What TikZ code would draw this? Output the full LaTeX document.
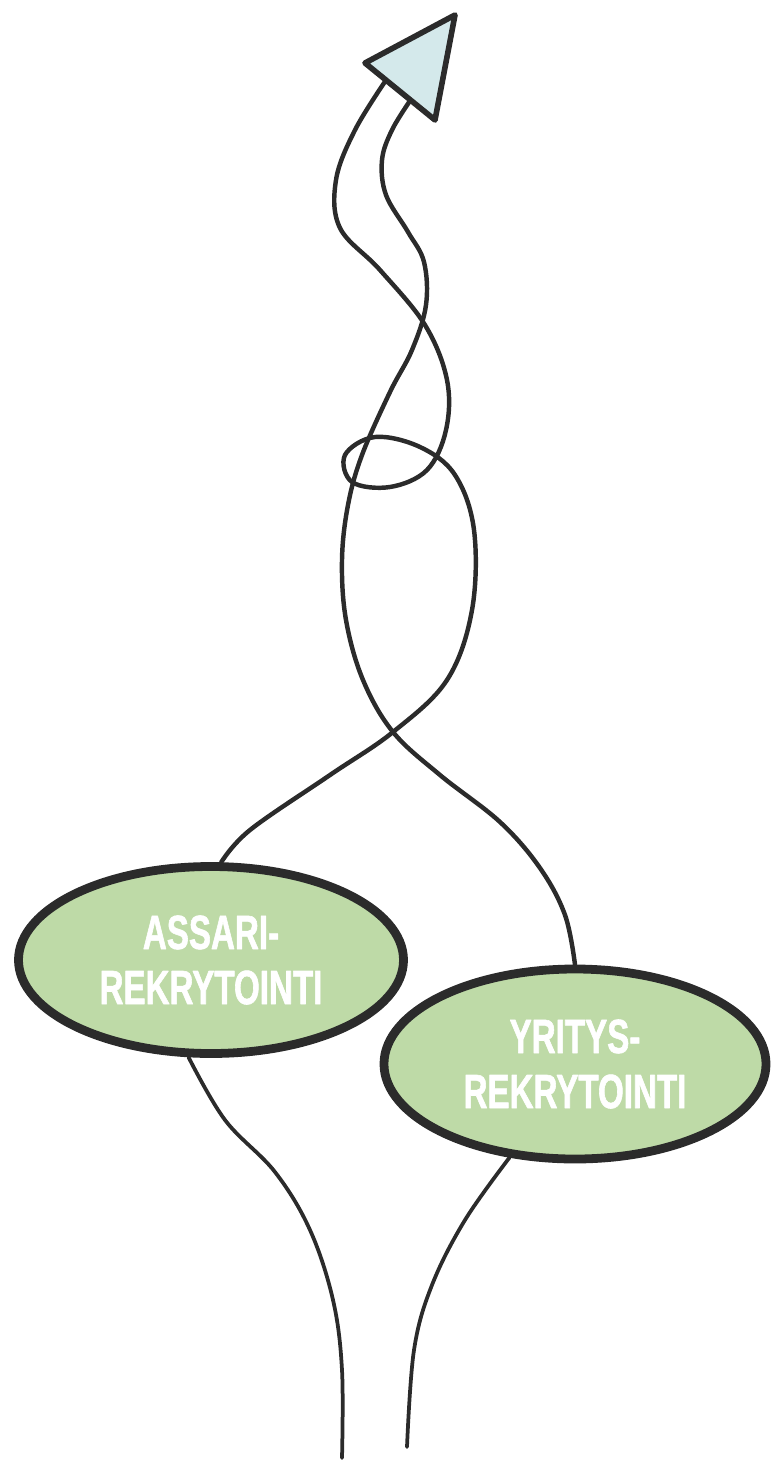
\documentclass[tikz,border=0pt]{standalone}
\usepackage{fontspec}
\newfontfamily\blobfont[FakeStretch=0.69,BoldFeatures={FakeBold=1.2}]{Liberation Sans}
\usetikzlibrary{shapes.geometric}
\usetikzlibrary{calc}
\definecolor{blobgreen}{RGB}{190,218,167}
\definecolor{headblue}{RGB}{212,233,235}
\definecolor{ink}{RGB}{43,43,43}

\begin{document}
\begin{tikzpicture}[line cap=round,line join=round,x=0.03cm,y=-0.03cm,
  thread/.style={draw=ink,line width=3.8pt},
  blob/.style={ellipse,draw=ink,line width=7.5pt,fill=blobgreen,inner sep=0pt,text=white,align=center,
    font=\blobfont\bfseries\fontsize{41}{47}\selectfont},
  head/.style={draw=ink,line width=4.8pt,fill=headblue}]
\useasboundingbox (0,0) rectangle (771,1462);
% the two blobs
\node[blob,minimum width=11.55cm,minimum height=5.61cm] (assari) at (211,960) {ASSARI-\\REKRYTOINTI};
\node[blob,minimum width=11.46cm,minimum height=5.7cm] (yritys) at (575,1064) {YRITYS-\\REKRYTOINTI};
% arrow head corners
\coordinate (tipA) at (455,15);
\coordinate (barbL) at (365,63);
\coordinate (barbR) at (435,120);
\coordinate (rootA) at ($(barbL)!0.3!(barbR)$);
\coordinate (rootB) at ($(barbL)!0.65!(barbR)$);
% loose ends at the bottom
\coordinate (endA) at (342,1458);
\coordinate (endB) at (407,1447);
% threads going up
\draw[thread] plot[smooth,tension=0.6] coordinates {(assari.84) (250,830) (330,775) (393,732)
  (447,680) (472,610) (474,530) (455,475) (420,447) (375,437) (345,455) (352,482) (390,487) (427,470)
  (446,430) (447,380) (425,325) (380,270) (340,228) (336,180) (355,130) (rootA)};
\draw[thread] plot[smooth,tension=0.6] coordinates {(yritys.north) (565,915) (540,868) (500,822) (440,775)
  (393,732) (363,680) (346,620) (342,560) (348,505) (362,455) (390,392) (412,350) (426,305) (424,262)
  (408,232) (386,195) (382,160) (392,130) (rootB)};
% threads going down
\draw[thread,line width=3.2pt] plot[smooth,tension=0.6] coordinates {(assari.257) (225,1120) (275,1172)
  (310,1230) (333,1300) (342,1370) (endA)};
\draw[thread,line width=3.2pt] plot[smooth,tension=0.6] coordinates {(yritys.235) (465,1220) (432,1285)
  (414,1350) (endB)};
\draw[head] (barbL) -- (tipA) -- (barbR) -- cycle;
\end{tikzpicture}
\end{document}
